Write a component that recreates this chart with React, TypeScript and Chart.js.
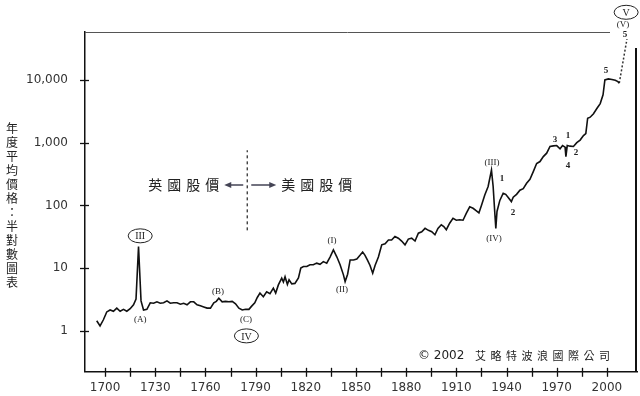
import React, { useEffect, useRef } from "react";
import { Chart, registerables } from "chart.js";
Chart.register(...registerables);

// ---- data ----
const years = [
  1695, 1697, 1699, 1701, 1703, 1705, 1707, 1709, 1711, 1713, 1715, 1717, 1718.5, 1720, 1721.5, 1723, 1725, 1727, 1729,
  1731, 1733, 1735, 1737, 1739, 1741, 1743, 1745, 1747, 1749, 1751, 1753, 1755, 1757, 1759, 1761, 1763, 1765, 1766.5,
  1768, 1770, 1772, 1774, 1776, 1778, 1780, 1782, 1784, 1786, 1787.5, 1789.5, 1791, 1792.6, 1794.6, 1796.6, 1798.6,
  1800.6, 1802, 1803.6, 1805.6, 1806.6, 1807.6, 1809, 1810, 1811.6, 1813.5, 1815.6, 1817, 1818.6, 1820.6, 1822.5,
  1824.5, 1826.5, 1828.5, 1830.5, 1832.5, 1834.5, 1836.5, 1838.6, 1840.5, 1842.5, 1843.5, 1845, 1846.5, 1848.5,
  1850.5, 1852.4, 1854, 1855.4, 1856.8, 1858.4, 1860, 1861.4, 1863.4, 1865.4, 1867.4, 1869.4, 1871.3, 1873.3,
  1875.3, 1877.3, 1879.3, 1881.3, 1883.3, 1885.3, 1887.3, 1889.3, 1891.3, 1893.3, 1895.3, 1897.2, 1899, 1901,
  1902.5, 1904, 1906, 1908, 1910, 1912, 1914, 1916, 1918, 1920, 1922, 1923.5, 1925, 1927, 1929, 1931, 1932, 1933,
  1933.6, 1934.3, 1936, 1938, 1939.5, 1940.9, 1942.9, 1944, 1946, 1948, 1950, 1952, 1954, 1956, 1958, 1960, 1962,
  1964, 1966, 1968, 1970, 1972, 1973.5, 1975, 1975.5, 1976.3, 1978, 1980, 1982, 1984, 1986, 1987.4, 1988.5, 1990,
  1992, 1994, 1996, 1997.7, 1998.8, 2000.9, 2003, 2005, 2006.6, 2007.4,
];
const prices = [
  1.45, 1.2, 1.5, 2.0, 2.15, 2.05, 2.3, 2.05, 2.2, 2.05, 2.25, 2.6, 3.2, 22, 3.0, 2.15, 2.2, 2.8, 2.75,
  2.9, 2.75, 2.8, 3.0, 2.75, 2.8, 2.8, 2.65, 2.75, 2.6, 2.9, 2.9, 2.6, 2.5, 2.4, 2.3, 2.3, 2.8, 2.95,
  3.3, 2.9, 2.95, 2.9, 2.95, 2.7, 2.3, 2.15, 2.2, 2.2, 2.45, 2.8, 3.4, 4.0, 3.5, 4.2, 3.9,
  4.8, 4.0, 5.4, 6.9, 6.0, 7.3, 5.5, 6.5, 5.6, 5.7, 7.0, 10, 10.6, 10.6, 11.3,
  11.3, 12, 11.5, 12.7, 12, 15, 19.5, 15, 11.3, 7.8, 6.1, 8, 13.5, 13.5,
  14, 16, 18, 16, 13.5, 11, 8.3, 11, 15, 23.5, 24.5, 28, 28, 32,
  30, 27, 23.5, 29, 30, 27, 36, 38, 43, 40, 38, 34, 43, 49,
  46, 41, 52, 62, 58, 59, 58, 75, 95, 90, 82, 76, 100, 147, 200, 365, 200, 75,
  43, 80, 120, 156, 150, 135, 115, 135, 150, 175, 185, 225, 260, 345, 465, 500, 600,
  680, 870, 890, 900, 800, 900, 850, 600, 900, 880, 870, 1000, 1100, 1300, 1400, 2450, 2550,
  2900, 3500, 4200, 5800, 10000, 10400, 10200, 9900, 9400, 8900,
];
const projYears = [2007.4, 2012];
const projPrices = [8900, 45000];
const dividerYears = [1785, 1785];
const dividerPrices = [40, 760];
const dividerLabelPrice = 212;
const leftLabel = "英國股價";
const rightLabel = "美國股價";

const xTicks = [1700, 1715, 1730, 1745, 1760, 1775, 1790, 1805, 1820, 1835, 1850, 1865, 1880, 1895, 1910, 1925, 1940, 1955, 1970, 1985, 2000];
const yTicks = [1, 10, 100, 1000, 10000];
const yTickLabels = ["1", "10", "100", "1,000", "10,000"];
const yTitle = "年度平均價格：半對數圖表";
const copyrightA = "© 2002";
const copyrightB = "艾略特波浪國際公司";

const waveLabels = [
  { t: "(A)", x: 1721, y: 1.5 },
  { t: "(B)", x: 1767.5, y: 4.2 },
  { t: "(C)", x: 1784.3, y: 1.5 },
  { t: "(I)", x: 1835.7, y: 27 },
  { t: "(II)", x: 1841.7, y: 4.5 },
  { t: "(III)", x: 1931.3, y: 475 },
  { t: "(IV)", x: 1932.5, y: 30 },
  { t: "1", x: 1937.3, y: 265 },
  { t: "2", x: 1943.9, y: 76 },
  { t: "3", x: 1969, y: 1100 },
  { t: "1", x: 1976.7, y: 1290 },
  { t: "4", x: 1976.7, y: 425 },
  { t: "2", x: 1981.5, y: 690 },
  { t: "5", x: 1999.5, y: 13900 },
  { t: "5", x: 2010.8, y: 52000 },
  { t: "(V)", x: 2009.6, y: 75000 },
];
const circledLabels = [
  { t: "III", x: 1721, y: 32.7 },
  { t: "IV", x: 1784.5, y: 0.83 },
  { t: "V", x: 2011.5, y: 120000 },
];

const decor = {
  id: "decor",
  afterDraw(chart: any) {
    const { ctx, chartArea: ca, scales } = chart;
    const xs = scales.x;
    const ys = scales.y;
    ctx.save();
    // frame top & right
    ctx.strokeStyle = "#555";
    ctx.lineWidth = 1;
    ctx.beginPath();
    ctx.moveTo(ca.left, ca.top + 0.5);
    ctx.lineTo(ca.right - 27, ca.top + 0.5);
    ctx.stroke();
    ctx.strokeStyle = "#111";
    ctx.lineWidth = 2;
    ctx.beginPath();
    ctx.moveTo(ca.right - 1, ca.top + 16);
    ctx.lineTo(ca.right - 1, ca.bottom);
    ctx.stroke();
    // crossing tick marks
    ctx.strokeStyle = "#111";
    ctx.lineWidth = 1.3;
    xTicks.forEach((v) => {
      const px = Math.round(xs.getPixelForValue(v)) + 0.5;
      ctx.beginPath();
      ctx.moveTo(px, ca.bottom - 4);
      ctx.lineTo(px, ca.bottom + 5);
      ctx.stroke();
    });
    yTicks.forEach((v) => {
      const py = Math.round(ys.getPixelForValue(v)) + 0.5;
      ctx.beginPath();
      ctx.moveTo(ca.left - 5, py);
      ctx.lineTo(ca.left + 4, py);
      ctx.stroke();
    });
    // y title, vertical
    ctx.fillStyle = "#222";
    ctx.font = "12px 'Noto Sans CJK TC'";
    ctx.textAlign = "center";
    ctx.textBaseline = "middle";
    Array.from(yTitle).forEach((ch, i) => {
      ctx.fillText(ch, 12, 128 + i * 14);
    });
    // wave labels
    ctx.fillStyle = "#222";
    waveLabels.forEach((l) => {
      const bold = /^\d$/.test(l.t);
      ctx.font = (bold ? "bold 9px" : "9px") + " 'Liberation Serif'";
      ctx.fillText(l.t, xs.getPixelForValue(l.x), ys.getPixelForValue(l.y));
    });
    circledLabels.forEach((l) => {
      const px = xs.getPixelForValue(l.x);
      const py = ys.getPixelForValue(l.y);
      ctx.font = "10px 'Liberation Serif'";
      ctx.fillText(l.t, px, py + 1);
      ctx.strokeStyle = "#222";
      ctx.lineWidth = 1;
      ctx.beginPath();
      ctx.ellipse(px, py, 12, 7, 0, 0, Math.PI * 2);
      ctx.stroke();
    });
    // divider labels & arrows
    const dx = xs.getPixelForValue(dividerYears[0]);
    const dy = ys.getPixelForValue(dividerLabelPrice);
    ctx.strokeStyle = "#445";
    ctx.fillStyle = "#445";
    ctx.lineWidth = 1.5;
    ctx.beginPath();
    ctx.moveTo(dx - 4, dy);
    ctx.lineTo(dx - 18, dy);
    ctx.moveTo(dx + 4, dy);
    ctx.lineTo(dx + 24, dy);
    ctx.stroke();
    ctx.beginPath();
    ctx.moveTo(dx - 23, dy);
    ctx.lineTo(dx - 16, dy - 3);
    ctx.lineTo(dx - 16, dy + 3);
    ctx.closePath();
    ctx.fill();
    ctx.beginPath();
    ctx.moveTo(dx + 29, dy);
    ctx.lineTo(dx + 22, dy - 3);
    ctx.lineTo(dx + 22, dy + 3);
    ctx.closePath();
    ctx.fill();
    ctx.fillStyle = "#222";
    ctx.font = "14px 'Noto Sans CJK TC'";
    (ctx as any).letterSpacing = "5px";
    ctx.textAlign = "right";
    ctx.fillText(leftLabel, dx - 23, dy);
    ctx.textAlign = "left";
    ctx.fillText(rightLabel, dx + 34, dy);
    // copyright
    (ctx as any).letterSpacing = "0px";
    ctx.font = "12px 'DejaVu Sans'";
    ctx.fillText(copyrightA, ca.left + 333, ca.bottom - 16);
    ctx.font = "11px 'Noto Sans CJK TC'";
    (ctx as any).letterSpacing = "4.5px";
    ctx.fillText(copyrightB, ca.left + 390, ca.bottom - 16);
    ctx.restore();
  },
};

export default function App() {
  const ref = useRef<HTMLCanvasElement | null>(null);
  useEffect(() => {
    document.body.style.margin = "0";
    const chart = new Chart(ref.current as HTMLCanvasElement, {
      type: "line",
      data: {
        datasets: [
          {
            data: years.map((yr, i) => ({ x: yr, y: prices[i] })),
            borderColor: "#111",
            borderWidth: 1.6,
            pointRadius: 0,
            tension: 0,
          },
          {
            data: projYears.map((yr, i) => ({ x: yr, y: projPrices[i] })),
            borderColor: "#333",
            borderWidth: 1.5,
            borderDash: [2, 2],
            pointRadius: 0,
          },
          {
            data: dividerYears.map((yr, i) => ({ x: yr, y: dividerPrices[i] })),
            borderColor: "#333",
            borderWidth: 1.3,
            borderDash: [3, 3],
            pointRadius: 0,
          },
        ],
      },
      options: {
        animation: false,
        responsive: false,
        devicePixelRatio: 1,
        layout: { padding: { top: 32, right: 3, left: 0, bottom: 0 } },
        plugins: { legend: { display: false }, tooltip: { enabled: false } },
        scales: {
          x: {
            type: "linear",
            min: 1688,
            max: 2018,
            grid: { display: false, drawTicks: false },
            border: { display: true, color: "#111", width: 1.5 },
            afterBuildTicks: (s: any) => {
              s.ticks = xTicks.map((v) => ({ value: v }));
            },
            afterFit: (s: any) => {
              s.height = 24;
            },
            ticks: {
              autoSkip: false,
              maxRotation: 0,
              padding: 9,
              color: "#333",
              font: { family: "'DejaVu Sans'", size: 12 },
              callback: (v: any) => ((v - 1700) % 30 === 0 ? String(v) : ""),
            },
          },
          y: {
            type: "logarithmic",
            min: 0.222,
            max: 58200,
            grid: { display: false, drawTicks: false },
            border: { display: true, color: "#111", width: 1.5 },
            afterBuildTicks: (s: any) => {
              s.ticks = yTicks.map((v) => ({ value: v }));
            },
            afterFit: (s: any) => {
              s.width = 85;
            },
            ticks: {
              autoSkip: false,
              padding: 17,
              color: "#333",
              font: { family: "'DejaVu Sans'", size: 12 },
              callback: (v: any) => {
                const i = yTicks.indexOf(Number(v));
                return i >= 0 ? yTickLabels[i] : "";
              },
            },
          },
        },
      },
      plugins: [decor],
    } as any);
    return () => chart.destroy();
  }, []);
  return (
    <div style={{ position: "absolute", left: 0, top: 0, width: 640, height: 396, background: "#fff" }}>
      <canvas ref={ref} width={640} height={396} />
    </div>
  );
}
